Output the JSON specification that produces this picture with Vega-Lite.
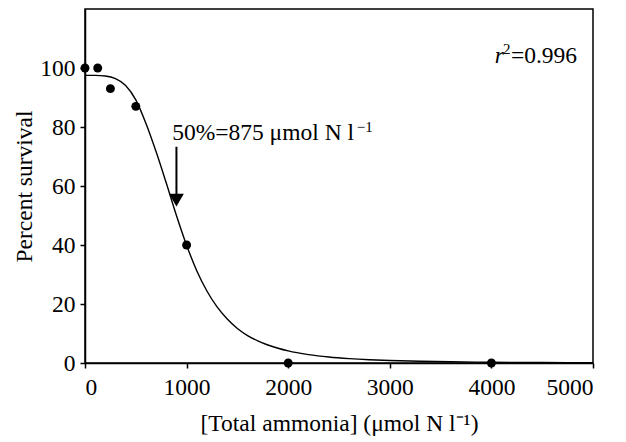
{
  "$schema": "https://vega.github.io/schema/vega-lite/v6.json",
  "width": 508,
  "height": 354,
  "autosize": "none",
  "padding": {"left": 85, "top": 9, "right": 33, "bottom": 79},
  "background": "white",
  "config": {
    "view": {"stroke": "#000", "strokeWidth": 1.5},
    "font": "Liberation Serif",
    "text": {"font": "Liberation Serif"},
    "axis": {
      "grid": false,
      "domainColor": "#000",
      "domainWidth": 1.5,
      "tickColor": "#000",
      "tickWidth": 1.5,
      "tickSize": 5,
      "labelFont": "Liberation Serif",
      "labelFontSize": 23.5,
      "labelColor": "#000",
      "titleFont": "Liberation Serif",
      "titleFontSize": 23.5,
      "titleFontWeight": "normal",
      "titleColor": "#000"
    }
  },
  "datasets": {
    "curve": [
      {"ammonia": 0, "survival": 97.5},
      {"ammonia": 100, "survival": 97.49},
      {"ammonia": 200, "survival": 97.28},
      {"ammonia": 300, "survival": 96.4},
      {"ammonia": 400, "survival": 94.1},
      {"ammonia": 500, "survival": 89.2},
      {"ammonia": 600, "survival": 81.2},
      {"ammonia": 700, "survival": 71.6},
      {"ammonia": 800, "survival": 61.0},
      {"ammonia": 900, "survival": 50.0},
      {"ammonia": 1000, "survival": 39.9},
      {"ammonia": 1100, "survival": 31.3},
      {"ammonia": 1200, "survival": 24.4},
      {"ammonia": 1300, "survival": 19.0},
      {"ammonia": 1400, "survival": 14.9},
      {"ammonia": 1500, "survival": 11.7},
      {"ammonia": 1600, "survival": 9.3},
      {"ammonia": 1700, "survival": 7.5},
      {"ammonia": 1800, "survival": 6.1},
      {"ammonia": 1900, "survival": 5.0},
      {"ammonia": 2000, "survival": 4.1},
      {"ammonia": 2200, "survival": 2.85},
      {"ammonia": 2400, "survival": 2.02},
      {"ammonia": 2600, "survival": 1.47},
      {"ammonia": 2800, "survival": 1.09},
      {"ammonia": 3000, "survival": 0.83},
      {"ammonia": 3300, "survival": 0.57},
      {"ammonia": 3600, "survival": 0.4},
      {"ammonia": 4000, "survival": 0.26},
      {"ammonia": 4500, "survival": 0.16},
      {"ammonia": 5000, "survival": 0.11}
    ],
    "points": [
      {"ammonia": 0, "survival": 100},
      {"ammonia": 125, "survival": 100},
      {"ammonia": 250, "survival": 93},
      {"ammonia": 500, "survival": 87},
      {"ammonia": 1000, "survival": 40},
      {"ammonia": 2000, "survival": 0},
      {"ammonia": 4000, "survival": 0}
    ]
  },
  "layer": [
    {
      "data": {"name": "curve"},
      "mark": {"type": "line", "color": "#000", "strokeWidth": 1.4, "interpolate": "monotone", "clip": true},
      "encoding": {
        "x": {
          "field": "ammonia", "type": "quantitative",
          "scale": {"domain": [0, 5000], "nice": false},
          "axis": {"values": [0, 1000, 2000, 3000, 4000, 5000], "format": "d", "labelPadding": 7, "titlePadding": 13, "title": "[Total ammonia] (μmol N l⁻¹)"}
        },
        "y": {
          "field": "survival", "type": "quantitative",
          "scale": {"domain": [0, 120], "nice": false},
          "axis": {"values": [0, 20, 40, 60, 80, 100], "format": "d", "labelPadding": 5, "titlePadding": 3, "title": "Percent survival"}
        }
      }
    },
    {
      "data": {"name": "points"},
      "mark": {"type": "point", "filled": true, "color": "#000", "opacity": 1, "size": 80},
      "encoding": {
        "x": {"field": "ammonia", "type": "quantitative"},
        "y": {"field": "survival", "type": "quantitative"}
      }
    },
    {
      "data": {"values": [{"x": 900, "y1": 73.3, "y2": 56}]},
      "mark": {"type": "rule", "color": "#000", "strokeWidth": 2},
      "encoding": {
        "x": {"field": "x", "type": "quantitative"},
        "y": {"field": "y1", "type": "quantitative"},
        "y2": {"field": "y2"}
      }
    },
    {
      "data": {"values": [{"x": 900, "y": 55.2}]},
      "mark": {"type": "point", "shape": "triangle-down", "filled": true, "color": "#000", "opacity": 1, "size": 220},
      "encoding": {
        "x": {"field": "x", "type": "quantitative"},
        "y": {"field": "y", "type": "quantitative"}
      }
    },
    {
      "data": {"values": [{"x": 2648, "y": 75.5, "label": "50%=875 μmol N l"}]},
      "mark": {"type": "text", "align": "right", "baseline": "alphabetic", "fontSize": 23.5, "color": "#000"},
      "encoding": {
        "x": {"field": "x", "type": "quantitative"},
        "y": {"field": "y", "type": "quantitative"},
        "text": {"field": "label"}
      }
    },
    {
      "data": {"values": [{"x": 2674, "y": 75.5, "label": "−1"}]},
      "mark": {"type": "text", "align": "left", "baseline": "alphabetic", "fontSize": 15, "dy": -8, "color": "#000"},
      "encoding": {
        "x": {"field": "x", "type": "quantitative"},
        "y": {"field": "y", "type": "quantitative"},
        "text": {"field": "label"}
      }
    },
    {
      "data": {"values": [{"x": 4114, "y": 101.7, "label": "r"}]},
      "mark": {"type": "text", "align": "right", "baseline": "alphabetic", "fontStyle": "italic", "fontSize": 23.5, "dx": 1, "color": "#000"},
      "encoding": {
        "x": {"field": "x", "type": "quantitative"},
        "y": {"field": "y", "type": "quantitative"},
        "text": {"field": "label"}
      }
    },
    {
      "data": {"values": [{"x": 4114, "y": 101.7, "label": "2"}]},
      "mark": {"type": "text", "align": "left", "baseline": "alphabetic", "fontSize": 15, "dy": -8.5, "color": "#000"},
      "encoding": {
        "x": {"field": "x", "type": "quantitative"},
        "y": {"field": "y", "type": "quantitative"},
        "text": {"field": "label"}
      }
    },
    {
      "data": {"values": [{"x": 4114, "y": 101.7, "label": "=0.996"}]},
      "mark": {"type": "text", "align": "left", "baseline": "alphabetic", "fontSize": 23.5, "dx": 8, "color": "#000"},
      "encoding": {
        "x": {"field": "x", "type": "quantitative"},
        "y": {"field": "y", "type": "quantitative"},
        "text": {"field": "label"}
      }
    }
  ]
}
